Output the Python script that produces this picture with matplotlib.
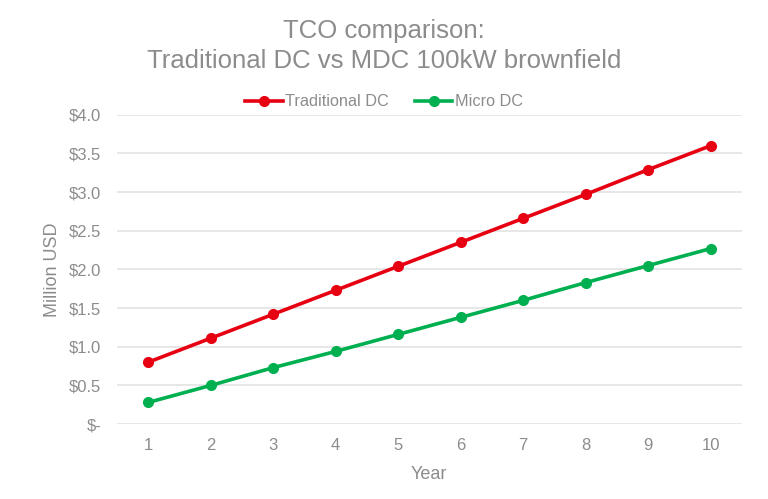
import matplotlib.pyplot as plt
import numpy as np

years = [1, 2, 3, 4, 5, 6, 7, 8, 9, 10]
traditional_dc = [0.80, 1.11, 1.42, 1.73, 2.04, 2.35, 2.66, 2.97, 3.29, 3.60]
micro_dc = [0.28, 0.50, 0.73, 0.94, 1.16, 1.38, 1.60, 1.83, 2.05, 2.27]
y_ticks = [0.0, 0.5, 1.0, 1.5, 2.0, 2.5, 3.0, 3.5, 4.0]
y_tick_labels = ['$-', '$0.5', '$1.0', '$1.5', '$2.0', '$2.5', '$3.0', '$3.5', '$4.0']


def main():
    plt.rcParams['font.family'] = ['Liberation Sans', 'DejaVu Sans']
    grey = '#8c8c8c'

    fig = plt.figure(figsize=(7.68, 4.99), dpi=100)
    ax = fig.add_axes([0.152, 0.150, 0.814, 0.620])

    ax.plot(years, traditional_dc, color='#e60012', linewidth=2.6,
            marker='o', markersize=7, label='Traditional DC', zorder=3)
    ax.plot(years, micro_dc, color='#00b050', linewidth=2.6,
            marker='o', markersize=7, label='Micro DC', zorder=3)

    ax.set_xlim(0.5, 10.5)
    ax.set_ylim(0, 4.0)
    ax.set_xticks(years)
    ax.set_xticklabels([str(y) for y in years])
    ax.set_yticks(y_ticks)
    ax.set_yticklabels(y_tick_labels)

    ax.grid(axis='y', color='#e3e3e3', linewidth=1.2, zorder=0)
    for s in ax.spines.values():
        s.set_visible(False)
    ax.tick_params(axis='both', length=0, colors=grey, labelsize=12)
    ax.tick_params(axis='x', pad=10)
    ax.tick_params(axis='y', pad=11)

    ax.set_xlabel('Year', color=grey, fontsize=13, labelpad=9)
    ax.set_ylabel('Million USD', color=grey, fontsize=13, labelpad=6)

    fig.text(0.5, 0.908, 'TCO comparison:\nTraditional DC vs MDC 100kW brownfield',
             ha='center', va='center', color=grey, fontsize=18.5, linespacing=1.3)

    # legend sits centred on the figure, not the axes
    leg = fig.legend(loc='center', bbox_to_anchor=(0.5, 0.796), ncol=2,
                     frameon=False, fontsize=11.7, handlelength=2.3,
                     columnspacing=1.6, handletextpad=0.15)
    for t in leg.get_texts():
        t.set_color(grey)

    fig.savefig('out.png', dpi=100)


if __name__ == '__main__':
    main()
